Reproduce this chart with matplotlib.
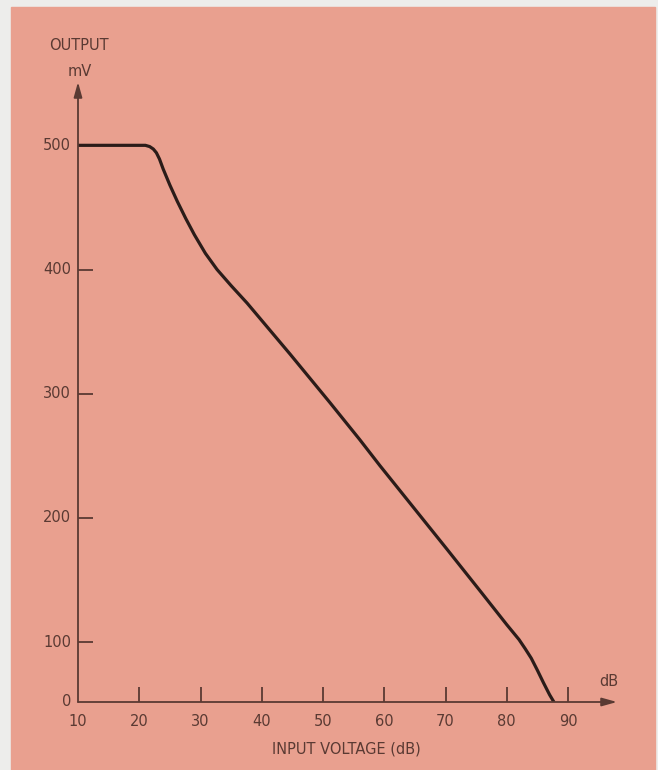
import matplotlib.pyplot as plt
import numpy as np
from matplotlib.patches import Rectangle

plt.rcParams['font.family'] = ['DejaVu Sans']

# data
input_db = [10, 20, 21.0, 21.7, 22.3, 22.8, 23.3, 23.9, 25.0, 26.2, 27.6,
            29.0, 30.8, 32.7, 35.0, 37.6, 44.6, 51.1, 56.0, 59.3, 70.2,
            76.0, 80.0, 81.0, 82.0, 83.0, 84.0, 85.0, 86.0, 87.0, 87.7]
output_mv = [500, 500, 500, 499, 497, 494, 489, 481, 468, 455, 441,
             428, 413, 400, 387, 373, 332, 293, 263, 242, 175,
             139, 114, 108, 102, 89, 73, 53, 32, 12, 0]
x_ticks = [20, 30, 40, 50, 60, 70, 80, 90]
x_labels = ['10', '20', '30', '40', '50', '60', '70', '80', '90']
y_ticks = [100, 200, 300, 400, 500]
y_labels = ['0', '100', '200', '300', '400', '500']

bg = '#e9a08f'
ink = '#5a3a33'
curve_col = '#2b1c19'

# the bottom 0-100 mV band of the original is drawn compressed
c = 0.483


def fwd(y):
    y = np.asarray(y, dtype=float)
    return np.where(y < 100, y * c, y - 100 + 100 * c)


def inv(y):
    y = np.asarray(y, dtype=float)
    return np.where(y < 100 * c, y / c, y + 100 - 100 * c)


W, H = 658, 770
fig = plt.figure(figsize=(6.58, 7.70), dpi=100, facecolor='#ededeb')
fig.patches.append(Rectangle((11 / W, 0), 644 / W, 763 / H,
                             transform=fig.transFigure, color=bg, zorder=-5))

ax = fig.add_axes([78 / W, 1 - 702 / H, (617 - 78) / W, (702 - 82) / H])
ax.set_facecolor('none')
ax.set_yscale('function', functions=(fwd, inv))
ax.set_xlim(10, 98)
ax.set_ylim(0, 551)

ax.plot(input_db, output_mv, color=curve_col, lw=2.3, solid_capstyle='round',
        solid_joinstyle='round', zorder=3)

for s in ax.spines.values():
    s.set_visible(False)
arrow = dict(arrowstyle='-|>,head_length=0.9,head_width=0.25', color=ink, lw=1.3,
             shrinkA=0, shrinkB=0)
ax.annotate('', xy=(1, 0), xytext=(0, 0), xycoords='axes fraction', arrowprops=arrow)
ax.annotate('', xy=(0, 1), xytext=(0, 0), xycoords='axes fraction', arrowprops=arrow)

ax.set_xticks(x_ticks)
ax.set_yticks(y_ticks)
ax.set_xticklabels([])
ax.set_yticklabels([])
ax.tick_params(axis='both', direction='in', length=11, width=1.3, color=ink)
ax.minorticks_off()

for i, lab in enumerate(x_labels):
    ax.text(10 + 10 * i, -20 / 620, lab, transform=ax.get_xaxis_transform(),
            ha='center', va='center', fontsize=10.5, color=ink)
for i, lab in enumerate(y_labels):
    ax.text(-7 / 539, 100 * i, lab, transform=ax.get_yaxis_transform(),
            ha='right', va='center', fontsize=10.5, color=ink)

fig.text(79 / W, 1 - 46 / H, 'OUTPUT', ha='center', va='center', fontsize=10.5, color=ink)
fig.text(80 / W, 1 - 71 / H, 'mV', ha='center', va='center', fontsize=10.5, color=ink)
fig.text(609 / W, 1 - 682 / H, 'dB', ha='center', va='center', fontsize=10.5, color=ink)
fig.text(346 / W, 1 - 749 / H, 'INPUT VOLTAGE (dB)', ha='center', va='center',
         fontsize=10.5, color=ink)

fig.savefig('out.png', dpi=100, facecolor=fig.get_facecolor())
